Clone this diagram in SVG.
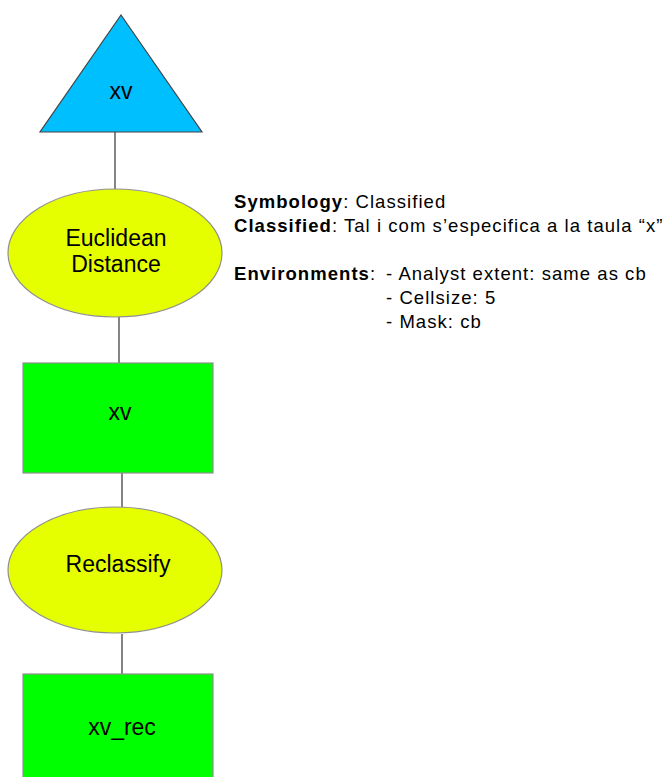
<svg xmlns="http://www.w3.org/2000/svg" width="671" height="777" viewBox="0 0 671 777">
<style>
text{font-family:"Liberation Sans",Arial,sans-serif;fill:#000}
.lbl{font-size:23px;text-anchor:middle}
.note{font-size:18.5px;letter-spacing:1.05px}
.b{font-weight:bold}
.ell{fill:#E6FF00;stroke:#909090;stroke-width:1.2}
.rect{fill:#00FF00;stroke:#909090;stroke-width:1.2}
.con{stroke:#333;stroke-width:1.2;fill:none}
</style>
<rect width="671" height="777" fill="#fff"/>
<g id="connectors">
<line class="con" x1="115" y1="132" x2="115" y2="189"/>
<line class="con" x1="119" y1="317" x2="119" y2="363"/>
<line class="con" x1="122" y1="473" x2="122" y2="507"/>
<line class="con" x1="122" y1="634" x2="122" y2="674"/>
</g>
<g id="n_xv_input">
<polygon points="121,15 202,132 40,132" fill="#00BFFF" stroke="#444" stroke-width="1.2"/>
<text class="lbl" x="121" y="99">xv</text>
</g>
<g id="n_euclidean">
<ellipse class="ell" cx="115" cy="253" rx="107" ry="64"/>
<text class="lbl" x="116" y="246">Euclidean</text>
<text class="lbl" x="116" y="272">Distance</text>
</g>
<g id="n_xv">
<rect class="rect" x="23" y="363" width="190" height="110"/>
<text class="lbl" x="120" y="420">xv</text>
</g>
<g id="n_reclassify">
<ellipse class="ell" cx="115" cy="570" rx="107" ry="63"/>
<text class="lbl" x="118" y="572">Reclassify</text>
</g>
<g id="n_xv_rec">
<rect class="rect" x="23" y="674" width="190" height="110"/>
<text class="lbl" x="122" y="735">xv_rec</text>
</g>
<g id="notes">
<text class="note" x="234" y="208"><tspan class="b">Symbology</tspan>: Classified</text>
<text class="note" x="234" y="232"><tspan class="b">Classified</tspan>: Tal i com s’especifica a la taula “x”</text>
<text class="note" x="234" y="280"><tspan class="b">Environments</tspan>:</text>
<text class="note" x="386" y="280">- Analyst extent: same as cb</text>
<text class="note" x="386" y="304">- Cellsize: 5</text>
<text class="note" x="386" y="328">- Mask: cb</text>
</g>
</svg>
